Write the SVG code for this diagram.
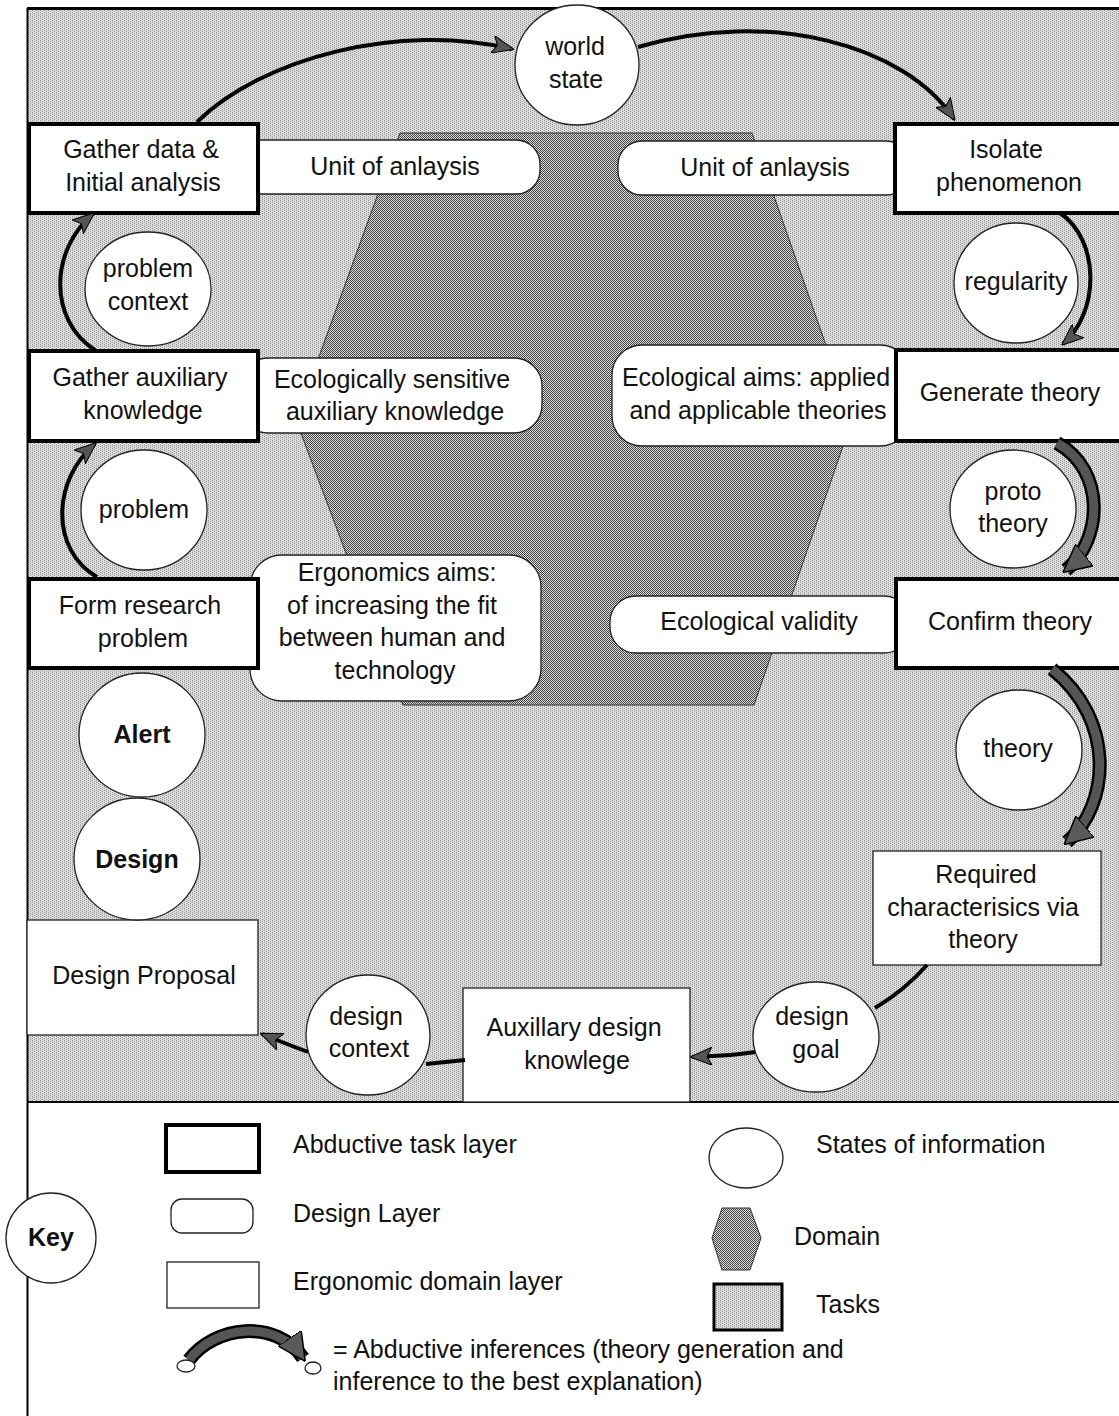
<svg xmlns="http://www.w3.org/2000/svg" width="1119" height="1416" viewBox="0 0 1119 1416">
  <defs>
    <!-- stippled grey fill used for the task area -->
    <pattern id="stipple" width="4" height="4" patternUnits="userSpaceOnUse">
      <rect width="4" height="4" fill="#dcdcdc"/>
      <rect x="0" y="0" width="1" height="1" fill="#959595"/>
      <rect x="2" y="1" width="1" height="1" fill="#959595"/>
      <rect x="0" y="2" width="1" height="1" fill="#959595"/>
      <rect x="2" y="3" width="1" height="1" fill="#959595"/>
    </pattern>
    <!-- checker fill used for the domain hexagon -->
    <pattern id="checker" width="4" height="4" patternUnits="userSpaceOnUse">
      <rect width="4" height="4" fill="#e0e0e0"/>
      <rect x="0" y="0" width="1" height="1" fill="#404040"/>
      <rect x="2" y="0" width="1" height="1" fill="#404040"/>
      <rect x="1" y="1" width="1" height="1" fill="#404040"/>
      <rect x="3" y="1" width="1" height="1" fill="#404040"/>
      <rect x="0" y="2" width="1" height="1" fill="#404040"/>
      <rect x="2" y="2" width="1" height="1" fill="#404040"/>
      <rect x="1" y="3" width="1" height="1" fill="#404040"/>
      <rect x="3" y="3" width="1" height="1" fill="#404040"/>
    </pattern>
    <marker id="head" markerUnits="userSpaceOnUse" viewBox="0 0 22 18" markerWidth="22" markerHeight="18" refX="20" refY="9" orient="auto">
      <path d="M0,0 L22,9 L0,18 L5,9 z" fill="#555" stroke="#000" stroke-width="1"/>
    </marker>
    <marker id="headBig" markerUnits="userSpaceOnUse" viewBox="0 0 28 28" markerWidth="28" markerHeight="28" refX="24" refY="14" orient="auto">
      <path d="M0,0 L28,14 L0,28 z" fill="#5a5a5a" stroke="#000" stroke-width="1.5"/>
    </marker>
    <style>
      text { font-family: "Liberation Sans", Arial, sans-serif; font-size: 25px; fill: #111; text-anchor: middle; }
      .bold { font-weight: bold; }
      .left { text-anchor: start; }
      .task { fill: #fff; stroke: #000; stroke-width: 4; }
      .design { fill: #fff; stroke: #222; stroke-width: 1.3; }
      .domain { fill: #fff; stroke: #222; stroke-width: 1.3; }
      .state { fill: #fff; stroke: #222; stroke-width: 1.3; }
      .link { fill: none; stroke: #000; stroke-width: 4; }
      .band-out { fill: none; stroke: #000; stroke-width: 14; }
      .band-in { fill: none; stroke: #555; stroke-width: 9; }
    </style>
  </defs>

  <rect width="1119" height="1416" fill="#fff"/>

  <!-- task area -->
  <g id="task-area">
    <rect x="27" y="8" width="1092" height="1094" fill="url(#stipple)"/>
    <line x1="27" y1="8.5" x2="1119" y2="8.5" stroke="#000" stroke-width="3"/>
    <line x1="27" y1="1102" x2="1119" y2="1102" stroke="#000" stroke-width="2"/>
    <line x1="27.5" y1="8" x2="27.5" y2="1416" stroke="#000" stroke-width="2"/>
  </g>

  <!-- domain -->
  <g id="domain">
    <polygon points="400,133 752,133 852,420 754,705 403,705 296,420" fill="url(#checker)" stroke="#333" stroke-width="1"/>
  </g>

  <!-- design layer -->
  <g id="unit-left">
    <rect class="design" x="238" y="140" width="302" height="54" rx="24"/>
    <text x="395" y="175">Unit of anlaysis</text>
  </g>
  <g id="unit-right">
    <rect class="design" x="618" y="141" width="292" height="54" rx="24"/>
    <text x="765" y="176">Unit of anlaysis</text>
  </g>
  <g id="eco-sensitive">
    <rect class="design" x="240" y="358" width="302" height="75" rx="28"/>
    <text x="392" y="388">Ecologically sensitive</text>
    <text x="395" y="420">auxiliary knowledge</text>
  </g>
  <g id="eco-aims">
    <rect class="design" x="612" y="345" width="298" height="101" rx="30"/>
    <text x="756" y="386">Ecological aims: applied</text>
    <text x="758" y="419">and applicable theories</text>
  </g>
  <g id="ergo-aims">
    <rect class="design" x="250" y="555" width="291" height="146" rx="32"/>
    <text x="397" y="581">Ergonomics aims:</text>
    <text x="392" y="614">of increasing the fit</text>
    <text x="392" y="646">between human and</text>
    <text x="395" y="679">technology</text>
  </g>
  <g id="eco-validity">
    <rect class="design" x="610" y="596" width="300" height="57" rx="26"/>
    <text x="759" y="630">Ecological validity</text>
  </g>

  <!-- abductive task layer -->
  <g id="gather-data">
    <rect class="task" x="29" y="124" width="229" height="89"/>
    <text x="141" y="158">Gather data &amp;</text>
    <text x="143" y="191">Initial analysis</text>
  </g>
  <g id="isolate">
    <rect class="task" x="895" y="124" width="240" height="89"/>
    <text x="1006" y="158">Isolate</text>
    <text x="1009" y="191">phenomenon</text>
  </g>
  <g id="gather-aux">
    <rect class="task" x="29" y="351" width="229" height="90"/>
    <text x="140" y="386">Gather auxiliary</text>
    <text x="143" y="419">knowledge</text>
  </g>
  <g id="generate">
    <rect class="task" x="896" y="350" width="240" height="91"/>
    <text x="1010" y="401">Generate theory</text>
  </g>
  <g id="form-problem">
    <rect class="task" x="29" y="579" width="229" height="89"/>
    <text x="140" y="614">Form research</text>
    <text x="143" y="647">problem</text>
  </g>
  <g id="confirm">
    <rect class="task" x="896" y="579" width="240" height="89"/>
    <text x="1010" y="630">Confirm theory</text>
  </g>

  <!-- ergonomic domain layer -->
  <g id="required">
    <rect class="domain" x="873" y="851" width="228" height="114"/>
    <text x="986" y="883">Required</text>
    <text x="983" y="916">characterisics via</text>
    <text x="983" y="948">theory</text>
  </g>
  <g id="design-proposal">
    <rect class="domain" x="27" y="920" width="231" height="115"/>
    <text x="144" y="984">Design Proposal</text>
  </g>
  <g id="aux-design">
    <rect class="domain" x="463" y="988" width="227" height="114"/>
    <text x="574" y="1036">Auxillary design</text>
    <text x="577" y="1069">knowlege</text>
  </g>

  <!-- states of information -->
  <g id="world-state">
    <ellipse class="state" cx="577" cy="65" rx="62" ry="60"/>
    <text x="575" y="55">world</text>
    <text x="576" y="88">state</text>
  </g>
  <g id="problem-context">
    <ellipse class="state" cx="148" cy="289" rx="63" ry="57"/>
    <text x="148" y="277">problem</text>
    <text x="148" y="310">context</text>
  </g>
  <g id="problem">
    <ellipse class="state" cx="144" cy="510" rx="63" ry="60"/>
    <text x="144" y="518">problem</text>
  </g>
  <g id="regularity">
    <ellipse class="state" cx="1016" cy="283" rx="62" ry="60"/>
    <text x="1016" y="290">regularity</text>
  </g>
  <g id="proto-theory">
    <ellipse class="state" cx="1013" cy="509" rx="63" ry="59"/>
    <text x="1013" y="500">proto</text>
    <text x="1013" y="532">theory</text>
  </g>
  <g id="theory">
    <ellipse class="state" cx="1019" cy="750" rx="63" ry="60"/>
    <text x="1018" y="757">theory</text>
  </g>
  <g id="alert">
    <ellipse class="state" cx="142" cy="735" rx="63" ry="62"/>
    <text class="bold" x="142" y="743">Alert</text>
  </g>
  <g id="design">
    <ellipse class="state" cx="137" cy="859" rx="63" ry="61"/>
    <text class="bold" x="137" y="868">Design</text>
  </g>
  <g id="design-context">
    <ellipse class="state" cx="368" cy="1035" rx="62" ry="60"/>
    <text x="366" y="1025">design</text>
    <text x="369" y="1057">context</text>
  </g>
  <g id="design-goal">
    <ellipse class="state" cx="816" cy="1037" rx="63" ry="55"/>
    <text x="812" y="1025">design</text>
    <text x="816" y="1058">goal</text>
  </g>

  <!-- connectors -->
  <g id="connectors">
    <path class="link" d="M197,122 C262,58 400,22 512,49" marker-end="url(#head)"/>
    <path class="link" d="M638,47 C770,8 905,45 954,119" marker-end="url(#head)"/>
    <path class="link" d="M1060,213 C1100,240 1100,312 1063,344" marker-end="url(#head)"/>
    <path class="band-out" d="M1057,443 C1106,470 1103,540 1066,570"/>
    <path class="band-in" d="M1057,443 C1106,470 1103,540 1066,570" marker-end="url(#headBig)"/>
    <path class="band-out" d="M1052,669 C1116,720 1110,805 1067,842"/>
    <path class="band-in" d="M1052,669 C1116,720 1110,805 1067,842" marker-end="url(#headBig)"/>
    <path class="link" d="M927,965 Q905,990 875,1008"/>
    <path class="link" d="M755,1052 C738,1055 718,1056 692,1057" marker-end="url(#head)"/>
    <path class="link" d="M465,1060 L426,1064"/>
    <path class="link" d="M308,1052 C292,1046 276,1040 262,1034" marker-end="url(#head)"/>
    <path class="link" d="M97,577 C50,550 52,480 95,444" marker-end="url(#head)"/>
    <path class="link" d="M95,350 C48,320 50,250 93,214" marker-end="url(#head)"/>
  </g>

  <!-- key -->
  <g id="key">
    <circle class="state" cx="51" cy="1238" r="45"/>
    <text class="bold" x="51" y="1246">Key</text>

    <rect class="task" x="166" y="1125" width="93" height="47"/>
    <text class="left" x="293" y="1153">Abductive task layer</text>

    <rect class="design" x="171" y="1199" width="82" height="34" rx="11"/>
    <text class="left" x="293" y="1222">Design Layer</text>

    <rect class="domain" x="167" y="1262" width="92" height="46"/>
    <text class="left" x="293" y="1290">Ergonomic domain layer</text>

    <path class="band-out" d="M189,1360 C214,1326 276,1318 303,1358"/>
    <path class="band-in" d="M189,1360 C214,1326 276,1318 303,1358" marker-end="url(#headBig)"/>
    <ellipse class="state" cx="186" cy="1366" rx="9" ry="6"/>
    <ellipse class="state" cx="313" cy="1368" rx="8" ry="6"/>
    <text class="left" x="333" y="1358">= Abductive inferences (theory generation and</text>
    <text class="left" x="333" y="1390">inference to the best explanation)</text>

    <ellipse class="state" cx="746" cy="1158" rx="37" ry="30"/>
    <text class="left" x="816" y="1153">States of information</text>

    <polygon points="722,1208 750,1208 761,1238 750,1270 722,1270 712,1238" fill="url(#checker)" stroke="#333" stroke-width="1"/>
    <text class="left" x="794" y="1245">Domain</text>

    <rect x="714" y="1284" width="68" height="46" fill="url(#stipple)" stroke="#000" stroke-width="3"/>
    <text class="left" x="816" y="1313">Tasks</text>
  </g>
</svg>
